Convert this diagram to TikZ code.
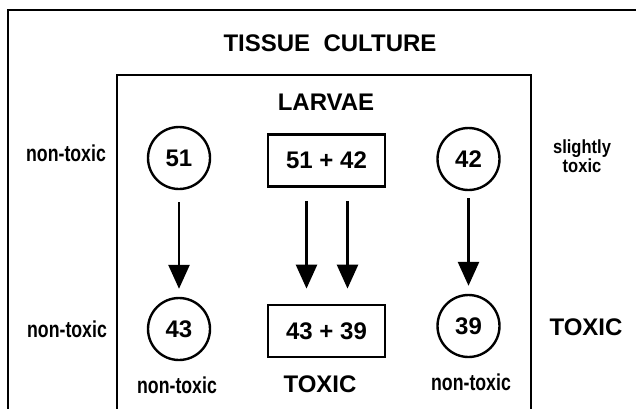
\documentclass[tikz,border=0pt]{standalone}
\usepackage{fontspec}
\setmainfont{Liberation Sans}
\newfontfamily\heavyfont{Liberation Sans}[FakeStretch=0.87]
\newfontfamily\narrowfont{Liberation Sans}[FakeStretch=0.77]
\usetikzlibrary{arrows.meta}
\tikzset{
  big/.style={font=\bfseries\fontsize{24}{26}\selectfont, inner sep=0pt},
  small/.style={font=\narrowfont\bfseries\fontsize{23}{26}\selectfont, inner sep=0pt},
  frame/.style={line width=2.7pt},
  numcirc/.style={circle, draw, line width=2.4pt, minimum size=62pt, inner sep=0pt, font=\bfseries\fontsize{24}{26}\selectfont},
  numbox/.style={rectangle, draw, line width=2.8pt, minimum width=117pt, minimum height=52pt, inner sep=0pt, font=\bfseries\fontsize{24}{26}\selectfont},
  arr/.style={line width=2.6pt, -{Triangle[width=21pt,length=24pt]}}
}
\begin{document}
\begin{tikzpicture}[x=1pt,y=-1pt]
\useasboundingbox (0,0) rectangle (636,408);
% frames
\draw[frame] (640,10) -- (8,10) -- (8,420);
\draw[frame] (117,420) -- (117,75) -- (531,75) -- (531,420);
% titles
\node[big] (tc) at (330,43) {TISSUE\ \ CULTURE};
\node[big] (lv) at (326,102) {LARVAE};
% top row
\node[numcirc] (c51) at (179,158) {51};
\node[numbox] (b1) at (326.5,160.5) {51 + 42};
\node[numcirc] (c42) at (468.5,159) {42};
% bottom row
\node[numcirc] (c43) at (179,329) {43};
\node[numbox] (b2) at (326.5,331) {43 + 39};
\node[numcirc] (c39) at (468.5,326) {39};
% side labels
\node[small] (l1) at (66,153) {non-toxic};
\node[small] (l2) at (67,329) {non-toxic};
\node[inner sep=0pt] (st) at (582,159) {\heavyfont\bfseries\fontsize{19}{17}\selectfont\begin{tabular}{@{}c@{}}\heavyfont\bfseries\fontsize{19}{17}\selectfont slightly\\\heavyfont\bfseries\fontsize{19}{17}\selectfont toxic\end{tabular}};
\node[big] (tx) at (586,327) {TOXIC};
% bottom labels
\node[small] (n43) at (177,385) {non-toxic};
\node[big] (tb) at (320,384) {TOXIC};
\node[small] (n39) at (471,382) {non-toxic};
% arrows
\draw[arr, shorten <=12pt, shorten >=8pt] (c51.south) -- (c43.north);
\draw[arr, shorten <=13pt, shorten >=15pt] ([xshift=-20pt]b1.south) -- ([xshift=-20pt]b2.north);
\draw[arr, shorten <=13pt, shorten >=15pt] ([xshift=21pt]b1.south) -- ([xshift=21pt]b2.north);
\draw[arr, shorten <=7pt, shorten >=8pt] (c42.south) -- (c39.north);
\end{tikzpicture}
\end{document}
